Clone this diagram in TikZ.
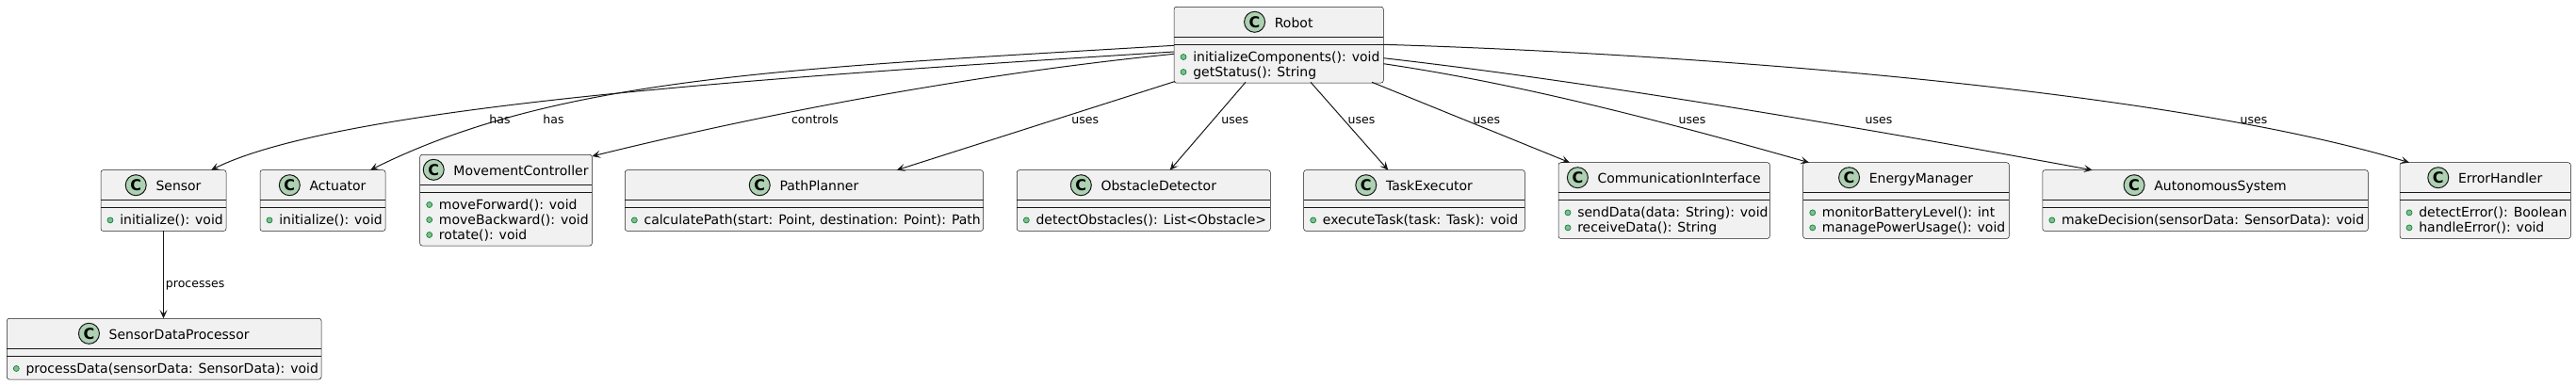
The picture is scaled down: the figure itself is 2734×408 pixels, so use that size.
\documentclass[tikz,border=0pt]{standalone}
\usepackage{fontspec}
\setmainfont{DejaVu Sans}
\usetikzlibrary{arrows.meta}
\definecolor{boxfill}{HTML}{F1F1F1}
\definecolor{ink}{HTML}{181818}
\definecolor{badgefill}{HTML}{ADD1B2}
\definecolor{dotfill}{HTML}{84BE84}
\definecolor{dotline}{HTML}{038048}
\tikzset{
  classbox/.style={draw=ink, line width=0.375pt, fill=boxfill, rounded corners=1.875pt, inner sep=0pt, outer sep=0pt},
  sepline/.style={draw=ink, line width=0.375pt},
  titletext/.style={font=\fontsize{10.5}{12}\selectfont, inner sep=0pt, anchor=base},
  badge/.style={circle, draw=ink, line width=0.75pt, fill=badgefill, minimum size=16.5pt, inner sep=0pt, font=\fontsize{12}{12}\selectfont\bfseries},
  methodtext/.style={font=\fontsize{10.5}{12}\selectfont, inner sep=0pt, anchor=base west},
  mdot/.style={circle, draw=dotline, fill=dotfill, line width=0.5pt, minimum size=4.5pt, inner sep=0pt},
  rel/.style={draw=ink, line width=0.75pt, -{Stealth[length=6.75pt, width=6pt, inset=3pt]}},
  rellabel/.style={font=\fontsize{9.4}{11}\selectfont, inner sep=0pt, anchor=base},
}
% #1 name, #2 left, #3 right, #4 top, #5 number of methods, #6 title, #7 methods
\newcommand\umlclass[7]{%
  \pgfmathsetmacro\ubot{#4+48.7+16*#5}%
  \pgfmathsetmacro\ucx{(#2+#3)/2}%
  \pgfmathsetmacro\ucy{(#4+\ubot)/2}%
  \pgfmathsetmacro\uw{(#3-#2)*0.75}%
  \pgfmathsetmacro\uh{(\ubot-#4)*0.75}%
  \node[classbox, minimum width=\uw pt, minimum height=\uh pt] (#1) at (\ucx,\ucy) {};
  \draw[sepline] (#2,#4+32) -- (#3,#4+32);
  \draw[sepline] (#2,#4+40) -- (#3,#4+40);
  \node[titletext] (#1-t) at (\ucx+16,#4+22) {#6};
  \node[badge] (#1-c) at ([xshift=-15.75pt, yshift=4.5pt]#1-t.base west) {C};
  \foreach \m [count=\i] in {#7} {
    \pgfmathsetmacro\ry{#4+52.7+16*(\i-1)}
    \node[mdot] (#1-d\i) at (#2+10,\ry+0.5) {};
    \node[methodtext] (#1-m\i) at (#2+20,\ry+5.5) {\m};
  }
}
\begin{document}
\begin{tikzpicture}[x=0.75pt, y=-0.75pt]
\fill[white] (0,0) rectangle (2734,408);
\useasboundingbox (0,0) rectangle (2734,408);

\umlclass{robot}{1246}{1468.3}{7.3}{2}{Robot}{{initializeComponents(): void},{getStatus(): String}}
\umlclass{sensor}{107}{240}{180.7}{1}{Sensor}{{initialize(): void}}
\umlclass{actuator}{276}{409}{180.7}{1}{Actuator}{{initialize(): void}}
\umlclass{movement}{445.7}{628.3}{164.3}{3}{MovementController}{{moveForward(): void},{moveBackward(): void},{rotate(): void}}
\umlclass{path}{663.3}{1043.5}{180.7}{1}{PathPlanner}{{calculatePath(start: Point, destination: Point): Path}}
\umlclass{obstacle}{1079.3}{1348.3}{180.7}{1}{ObstacleDetector}{{detectObstacles(): List<Obstacle>}}
\umlclass{task}{1383.7}{1618.3}{180.7}{1}{TaskExecutor}{{executeTask(task: Task): void}}
\umlclass{comm}{1654}{1878.3}{172.7}{2}{CommunicationInterface}{{sendData(data: String): void},{receiveData(): String}}
\umlclass{energy}{1913.7}{2132.3}{172.7}{2}{EnergyManager}{{monitorBatteryLevel(): int},{managePowerUsage(): void}}
\umlclass{auto}{2167.8}{2513.3}{180.7}{1}{AutonomousSystem}{{makeDecision(sensorData: SensorData): void}}
\umlclass{error}{2547}{2728.3}{172.7}{2}{ErrorHandler}{{detectError(): Boolean},{handleError(): void}}
\umlclass{sdp}{7.3}{341}{338.3}{1}{SensorDataProcessor}{{processData(sensorData: SensorData): void}}

% connector end points on the boxes
\coordinate (r-act) at (1246,48.3);
\coordinate (r-sen) at (1246,55);
\coordinate (r-mov) at (1246,57.3);
\coordinate (r-path) at (1247,86.5);
\coordinate (r-obs) at (1322,87.3);
\coordinate (r-task) at (1391,87.3);
\coordinate (r-comm) at (1456,87.3);
\coordinate (r-err) at (1468.3,47.3);
\coordinate (r-aut) at (1468.3,61.7);
\coordinate (r-en) at (1468.3,67.7);
\coordinate (sen-in) at (224,180.7);
\coordinate (act-in) at (393,180.7);
\coordinate (mov-in) at (628.3,166);
\coordinate (path-in) at (951.7,180.7);
\coordinate (obs-in) at (1241.7,180.7);
\coordinate (task-in) at (1473.3,180.7);
\coordinate (comm-in) at (1666,172.7);
\coordinate (en-in) at (1920,172.7);
\coordinate (aut-in) at (2220.7,180.7);
\coordinate (err-in) at (2557,172.7);

\draw[rel] (r-sen) .. controls (846,80.2) and (364,110.7) .. (sen-in);
\draw[rel] (r-act) .. controls (846,72.3) and (593,80.7) .. (act-in);
\draw[rel] (r-mov) .. controls (1046,77.3) and (828.3,116.6) .. (mov-in);
\draw[rel] (r-path) -- (path-in);
\draw[rel] (r-obs) -- (obs-in);
\draw[rel] (r-task) -- (task-in);
\draw[rel] (r-comm) -- (comm-in);
\draw[rel] (r-en) .. controls (1620,90) and (1780,133) .. (en-in);
\draw[rel] (r-aut) .. controls (1700,88) and (2000,140) .. (aut-in);
\draw[rel] (r-err) .. controls (1800,57.3) and (2300,95) .. (err-in);
\draw[rel] (sensor.south) -- (sensor.south |- sdp.north);

\node[rellabel] (l-has1) at (530.5,131) {has};
\node[rellabel] (l-has2) at (587.5,131) {has};
\node[rellabel] (l-ctrl) at (865,131) {controls};
\node[rellabel] (l-u1) at (1151.7,131) {uses};
\node[rellabel] (l-u2) at (1310.7,131) {uses};
\node[rellabel] (l-u3) at (1445,131) {uses};
\node[rellabel] (l-u4) at (1577.7,131) {uses};
\node[rellabel] (l-u5) at (1796,131) {uses};
\node[rellabel] (l-u6) at (1994,131) {uses};
\node[rellabel] (l-u7) at (2392,131) {uses};
\node[rellabel, anchor=base west] (l-proc) at (175.7,305) {processes};
\end{tikzpicture}
\end{document}
